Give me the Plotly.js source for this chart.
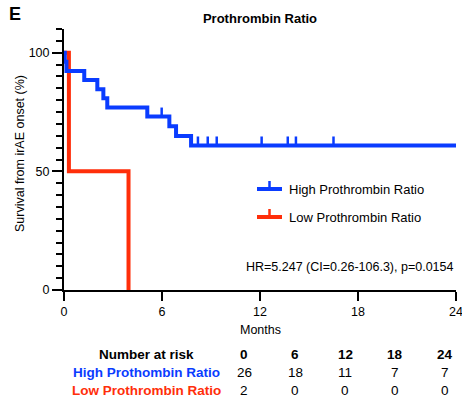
<!DOCTYPE html>
<html>
<head>
<meta charset="utf-8">
<script src="https://cdn.plot.ly/plotly-3.0.1.min.js"></script>
<style>html,body{margin:0;padding:0;background:#fff;}#chart{width:462px;height:397px;}</style>
</head>
<body>
<div id="chart"></div>
<script>
// ---- data ----
var highName = "High Prothrombin Ratio";
var lowName = "Low Prothrombin Ratio";
var highEventTimes = [0, 0.05, 0.15, 1.24, 2.04, 2.41, 2.65, 5.1, 6.45, 6.86, 7.78, 24];
var highSurvival   = [100, 96.2, 92.3, 88.5, 84.6, 80.8, 76.9, 73.1, 69.0, 64.9, 60.9, 60.9];
var highCensorTimes = [5.98, 8.2, 8.8, 9.35, 12.1, 13.7, 14.2, 16.5];
var lowEventTimes = [0, 0.3, 3.95];
var lowSurvival   = [100, 50, 0];
var lowCensorTimes = [];
var riskTimes = ["0", "6", "12", "18", "24"];
var riskHigh = [26, 18, 11, 7, 7];
var riskLow = [2, 0, 0, 0, 0];
var riskHighLabel = "High Prothombin Ratio";
var riskLowLabel = "Low Prothrombin Ratio";
var hrText = "HR=5.247 (CI=0.26-106.3), p=0.0154";

// ---- style ----
var BLUE = "#0a3cff", RED = "#ff2e0a";
var FONT = "Liberation Sans, Arial, Helvetica, sans-serif";
var L = 64, R = 456, T = 29, B = 290; // plot area in px
function px(x){ return (x - L) / (R - L); }
function py(y){ return (B - y) / (B - T); }

function stepXY(times, surv){
  var x = [times[0]], y = [surv[0]];
  for (var i = 1; i < times.length; i++){
    x.push(times[i]); y.push(surv[i-1]);
    x.push(times[i]); y.push(surv[i]);
  }
  return {x:x, y:y};
}
function survAt(times, surv, t){
  var s = surv[0];
  for (var i = 0; i < times.length; i++){ if (times[i] <= t) s = surv[i]; }
  return s;
}
function censorXY(ctimes, times, surv, h){
  var x = [], y = [];
  ctimes.forEach(function(t){
    var s = survAt(times, surv, t);
    x.push(t, t, null); y.push(s, s + h, null);
  });
  return {x:x, y:y};
}

var hs = stepXY(highEventTimes, highSurvival);
var ls = stepXY(lowEventTimes, lowSurvival);
var hc = censorXY(highCensorTimes, highEventTimes, highSurvival, 3.8);
var lc = censorXY(lowCensorTimes, lowEventTimes, lowSurvival, 3.8);

var traces = [
  {x: ls.x, y: ls.y, mode: "lines", line: {color: RED, width: 4, shape: "linear"}, cliponaxis: false, showlegend: false, hoverinfo: "skip"},
  {x: lc.x, y: lc.y, mode: "lines", line: {color: RED, width: 2.5}, cliponaxis: false, showlegend: false, hoverinfo: "skip"},
  {x: hs.x, y: hs.y, mode: "lines", line: {color: BLUE, width: 4, shape: "linear"}, cliponaxis: false, showlegend: false, hoverinfo: "skip"},
  {x: hc.x, y: hc.y, mode: "lines", line: {color: BLUE, width: 2.5}, cliponaxis: false, showlegend: false, hoverinfo: "skip"}
];

var ann = [];
var shapes = [];
function A(text, x, y, opts){
  var a = {text: text, xref: "paper", yref: "paper", x: px(x), y: py(y), showarrow: false,
           xanchor: "center", yanchor: "middle", font: {family: FONT, size: 13, color: "#000"}};
  for (var k in opts){ if (k === "font"){ for (var f in opts.font) a.font[f] = opts.font[f]; } else a[k] = opts[k]; }
  ann.push(a);
}
A("<b>E</b>", 7, 14, {xanchor: "left", font: {size: 18}});
A("Survival from irAE onset (%)", 20, 154, {textangle: -90, font: {size: 12.5}});
A("Months", 260, 330, {font: {size: 12.5}});
A(hrText, 455, 267, {xanchor: "right", font: {size: 12.5}});

// legend
[[highName, BLUE, 189], [lowName, RED, 217]].forEach(function(it){
  shapes.push({type: "line", xref: "paper", yref: "paper", x0: px(257), x1: px(282), y0: py(it[2]), y1: py(it[2]), line: {color: it[1], width: 4}});
  shapes.push({type: "line", xref: "paper", yref: "paper", x0: px(269.5), x1: px(269.5), y0: py(it[2]), y1: py(it[2] - 8), line: {color: it[1], width: 2.5}});
  A(it[0], 287, it[2], {xanchor: "left", font: {size: 13}});
});

// number at risk table
var colX = [244, 295, 345, 395, 445];
A("<b>Number at risk</b>", 146, 354, {font: {size: 13.5}});
A("<b>" + riskHighLabel + "</b>", 146, 372, {font: {size: 13.5, color: BLUE}});
A("<b>" + riskLowLabel + "</b>", 146, 390, {font: {size: 13.5, color: RED}});
riskTimes.forEach(function(t, i){
  A("<b>" + t + "</b>", colX[i], 354, {font: {size: 13.5}});
  A(String(riskHigh[i]), colX[i], 372, {font: {size: 13.5}});
  A(String(riskLow[i]), colX[i], 390, {font: {size: 13.5}});
});

var layout = {
  width: 462, height: 397,
  margin: {l: L, r: 462 - R, t: T, b: 397 - B, pad: 0},
  paper_bgcolor: "#fff", plot_bgcolor: "#fff",
  font: {family: FONT, size: 12.5, color: "#000"},
  title: {text: "<b>Prothrombin Ratio</b>", x: 260/462, xanchor: "center", y: 1 - 18/397, yanchor: "middle", yref: "container",
          font: {family: FONT, size: 13, color: "#000"}},
  xaxis: {range: [0, 24], tickvals: [0, 6, 12, 18, 24], ticks: "outside", ticklen: 9, tickwidth: 2, tickcolor: "#000",
          ticklabeloverflow: "allow",
          showline: true, linewidth: 2, linecolor: "#000", showgrid: false, zeroline: false,
          tickfont: {family: FONT, size: 12.5, color: "#000"}, fixedrange: true},
  yaxis: {range: [0, 110], tickvals: [0, 50, 100], ticks: "outside", ticklen: 10, tickwidth: 2, tickcolor: "#000",
          minor: {dtick: 5, ticks: "outside", ticklen: 6, tickwidth: 2, tickcolor: "#000", showgrid: false},
          showline: true, linewidth: 2, linecolor: "#000", showgrid: false, zeroline: false,
          tickfont: {family: FONT, size: 12.5, color: "#000"}, fixedrange: true},
  annotations: ann,
  shapes: shapes,
  showlegend: false
};

Plotly.newPlot("chart", traces, layout, {displayModeBar: false, staticPlot: true});
</script>
</body>
</html>
